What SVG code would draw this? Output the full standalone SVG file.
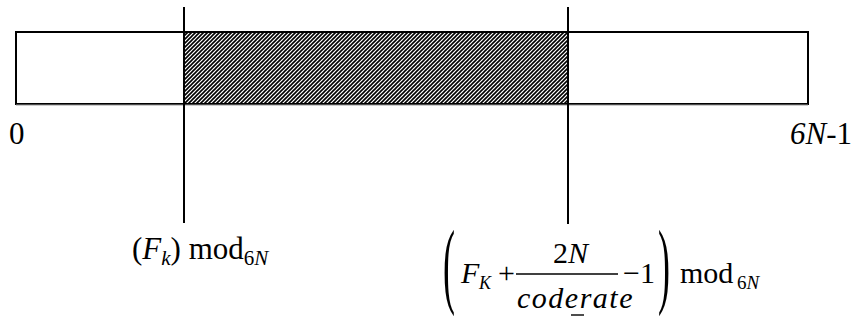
<svg xmlns="http://www.w3.org/2000/svg" width="852" height="320" viewBox="0 0 852 320">
<style>
.t{font-family:"Liberation Serif","Times New Roman",serif;fill:#000}
.i{font-style:italic}
.ln{stroke:#000;stroke-width:2;fill:none}
</style>
<defs>
<pattern id="hatch" patternUnits="userSpaceOnUse" width="4" height="4">
<rect width="4" height="4" fill="#fff"/>
<path d="M-1,1 L1,-1 M0,4 L4,0 M3,5 L5,3" stroke="#000" stroke-width="1.6"/>
</pattern>
</defs>
<rect width="852" height="320" fill="#fff"/>
<g id="bar">
<rect x="16" y="32" width="792" height="72" fill="#fff" stroke="#000" stroke-width="2"/>
<rect x="184" y="32" width="384" height="72" fill="url(#hatch)" stroke="#000" stroke-width="2"/>
<line x1="16" y1="105" x2="808" y2="105" stroke="#999" stroke-width="1"/>
</g>
<g id="connectors">
<line class="ln" x1="184" y1="7" x2="184" y2="223"/>
<line class="ln" x1="568" y1="7" x2="568" y2="224"/>
</g>
<g id="label-0"><text class="t" x="9" y="144" font-size="31">0</text></g>
<g id="label-6n"><text class="t" x="852" y="144" font-size="31" text-anchor="end"><tspan class="i">6N</tspan>-1</text></g>
<g id="label-start">
<text class="t" x="132" y="259" font-size="31">(<tspan class="i">F</tspan><tspan class="i" font-size="21" dy="6">k</tspan><tspan dy="-6">) mod</tspan><tspan font-size="21" dy="6">6<tspan class="i">N</tspan></tspan></text>
</g>
<g id="label-end">
<text class="t" transform="translate(443,296) scale(1.2,3.2)" font-size="30">(</text>
<text class="t i" x="461" y="283" font-size="30">F</text>
<text class="t i" x="479" y="289" font-size="18">K</text>
<text class="t" x="498" y="283" font-size="30">+</text>
<line x1="516" y1="274" x2="618" y2="274" stroke="#000" stroke-width="1.4"/>
<text class="t" x="553" y="263" font-size="30">2<tspan class="i">N</tspan></text>
<text class="t i" x="517" y="308" font-size="30" letter-spacing="1.5">coderate</text>
<line x1="571" y1="315" x2="584" y2="315" stroke="#000" stroke-width="1.4"/>
<text class="t" x="623" y="283" font-size="30">−1</text>
<text class="t" transform="translate(658,296) scale(1.2,3.2)" font-size="30">)</text>
<text class="t" x="680" y="283" font-size="30">mod</text>
<text class="t" x="737" y="289" font-size="19">6<tspan class="i">N</tspan></text>
</g>
</svg>
